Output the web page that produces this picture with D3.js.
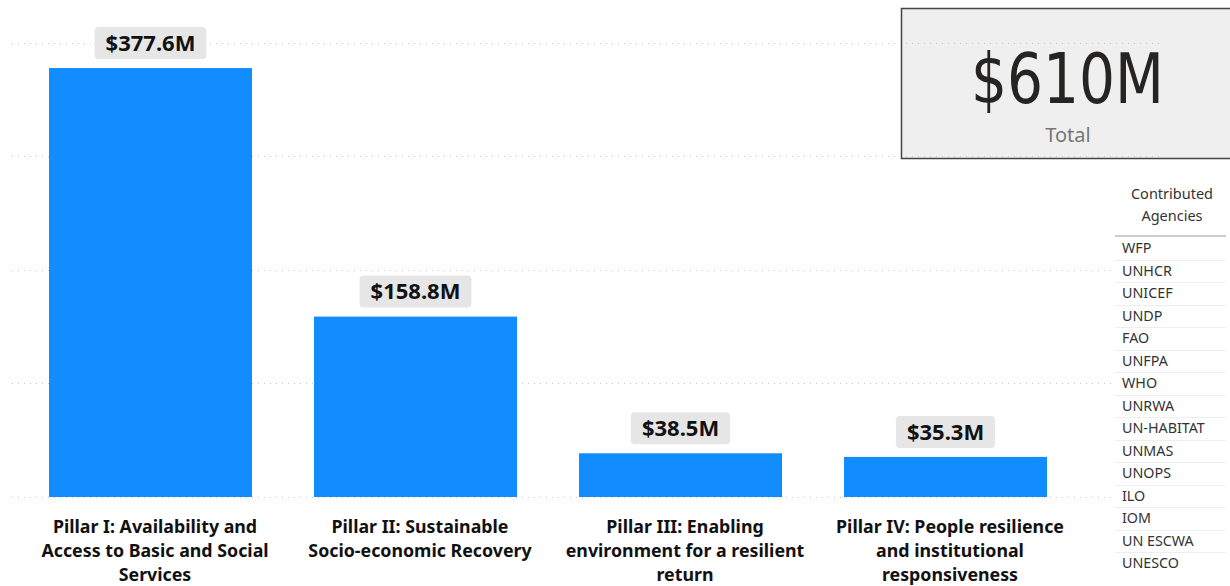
<!DOCTYPE html>
<html><head><meta charset="utf-8">
<script src="https://cdn.jsdelivr.net/npm/d3@7"></script>
<style>body{margin:0;background:#fff;}svg{display:block;}</style>
</head><body>
<svg id="c" width="1230" height="586"></svg>
<script>
const categories = [
  ["Pillar I: Availability and", "Access to Basic and Social", "Services"],
  ["Pillar II: Sustainable", "Socio-economic Recovery"],
  ["Pillar III: Enabling", "environment for a resilient", "return"],
  ["Pillar IV: People resilience", "and institutional", "responsiveness"]
];
const values = [377.6, 158.8, 38.5, 35.3];
const valueLabels = ["$377.6M", "$158.8M", "$38.5M", "$35.3M"];
const gridTicks = [0, 100, 200, 300, 400];
const totalLabel = "$610M";
const totalCaption = "Total";
const tableHeader = ["Contributed", "Agencies"];
const agencies = ["WFP","UNHCR","UNICEF","UNDP","FAO","UNFPA","WHO","UNRWA","UN-HABITAT","UNMAS","UNOPS","ILO","IOM","UN ESCWA","UNESCO"];

const svg = d3.select("#c");
const font = "'Noto Sans', 'Open Sans', sans-serif";

const x = d3.scaleBand().domain(d3.range(values.length)).range([18, 1078]).paddingInner(0.234).paddingOuter(0.117);
const y = d3.scaleLinear().domain([0, 400]).range([497, 42.6]);

// KPI card
const card = svg.append("g");
card.append("rect").attr("x", 901.5).attr("y", 8.5).attr("width", 340).attr("height", 150)
  .attr("fill", "#efefef").attr("stroke", "#444").attr("stroke-width", 1.5);
card.append("text").attr("x", 971).attr("y", 103)
  .attr("font-family", "'DejaVu Sans Condensed', 'DejaVu Sans', sans-serif").attr("font-size", 70)
  .attr("textLength", 193).attr("lengthAdjust", "spacingAndGlyphs")
  .attr("fill", "#252423").text(totalLabel);
card.append("text").attr("x", 1068).attr("y", 142).attr("text-anchor", "middle")
  .attr("font-family", font).attr("font-size", 20).attr("fill", "#777").text(totalCaption);

// gridlines
svg.append("g").selectAll("line").data(gridTicks).join("line")
  .attr("x1", 12).attr("x2", 1162)
  .attr("y1", d => Math.round(y(d)) + 0.5).attr("y2", d => Math.round(y(d)) + 0.5)
  .attr("stroke", "#c8c8c8").attr("stroke-width", 1).attr("stroke-dasharray", "1,5");

// bars
svg.append("g").selectAll("rect").data(values).join("rect")
  .attr("x", (d, i) => x(i)).attr("width", x.bandwidth())
  .attr("y", d => y(d)).attr("height", d => y(0) - y(d))
  .attr("fill", "#118dff");

// value labels
const lg = svg.append("g").selectAll("g").data(values).join("g")
  .attr("transform", (d, i) => `translate(${x(i) + x.bandwidth() / 2},${y(d) - 25})`);
lg.append("text").attr("text-anchor", "middle").attr("dy", "0.35em")
  .attr("font-family", font).attr("font-weight", 700).attr("font-size", 22).attr("fill", "#111")
  .text((d, i) => valueLabels[i]);
lg.each(function () {
  const g = d3.select(this);
  const bb = g.select("text").node().getBBox();
  g.insert("rect", "text").attr("x", bb.x - 11).attr("y", -16).attr("width", bb.width + 22).attr("height", 32)
    .attr("rx", 4).attr("fill", "#e6e6e6");
});

// category labels
const cg = svg.append("g").selectAll("text").data(categories).join("text")
  .attr("text-anchor", "middle").attr("font-family", font).attr("font-weight", 700)
  .attr("font-size", 17.8).attr("fill", "#111")
  .attr("transform", (d, i) => `translate(${x(i) + x.bandwidth() / 2 + 4.5},533)`);
cg.selectAll("tspan").data(d => d).join("tspan").attr("x", 0).attr("dy", (d, j) => j ? 24 : 0).text(d => d);

// table
const tg = svg.append("g");
tg.append("rect").attr("x", 1115).attr("y", 176).attr("width", 115).attr("height", 410).attr("fill", "#fff");
tg.selectAll("text.h").data(tableHeader).join("text").attr("class", "h")
  .attr("x", 1172).attr("y", (d, i) => 199 + i * 22).attr("text-anchor", "middle")
  .attr("font-family", font).attr("font-size", 14.5).attr("fill", "#333").text(d => d);
tg.append("line").attr("x1", 1115).attr("x2", 1226).attr("y1", 236).attr("y2", 236)
  .attr("stroke", "#ccc").attr("stroke-width", 2);
const ry = d3.scaleBand().domain(agencies).range([237, 237 + 22.5 * agencies.length]);
tg.selectAll("line.r").data(agencies.slice(0, -1)).join("line").attr("class", "r")
  .attr("x1", 1115).attr("x2", 1226)
  .attr("y1", d => Math.round(ry(d) + ry.bandwidth()) + 0.5).attr("y2", d => Math.round(ry(d) + ry.bandwidth()) + 0.5)
  .attr("stroke", "#eee").attr("stroke-width", 1);
tg.selectAll("text.r").data(agencies).join("text").attr("class", "r")
  .attr("x", 1122).attr("y", d => ry(d) + ry.bandwidth() / 2).attr("dy", "0.35em")
  .attr("font-family", font).attr("font-size", 14.3).attr("fill", "#333").text(d => d);
</script>
</body></html>
